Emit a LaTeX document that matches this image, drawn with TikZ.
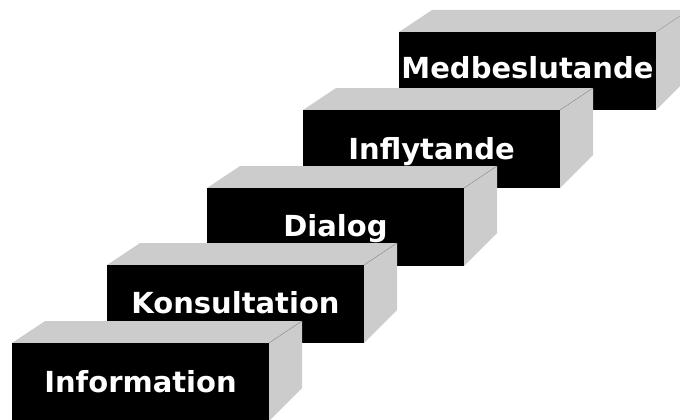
\documentclass[tikz,border=0pt]{standalone}
\usepackage{fontspec}
\newfontfamily\labelfont{DejaVu Sans}
\usepackage{tikz}

\begin{document}
\begin{tikzpicture}[x=1pt,y=-1pt]
  \tikzstyle{FrontStyle}=[fill=black]
  \tikzstyle{SideStyle}=[fill=black!20]
  \tikzstyle{EdgeStyle}=[draw=black!45,line width=0.4pt]
  \tikzstyle{LabelStyle}=[text=white,anchor=base,inner sep=0pt,
                          font=\labelfont\bfseries\fontsize{29}{32}\selectfont]
  \useasboundingbox (0,0) rectangle (680,420);
  \clip (0,0) rectangle (680,420);
  % top step first, lower steps overlap it
  \foreach \x/\y/\base/\id/\txt in {399/32/46/med/Medbeslutande,
                                   303/110/49/infl/Inflytande,
                                   207/188/48/dia/Dialog,
                                   107/265/48/kons/Konsultation,
                                   12/343/49/info/Information}{
    \fill[SideStyle] (\x,\y) -- ++(33,-22) -- ++(257,0) -- ++(-33,22) -- cycle;
    \fill[SideStyle] (\x+257,\y) -- ++(33,-22) -- ++(0,67) -- ++(-33,33) -- cycle;
    \draw[EdgeStyle] (\x+257,\y) -- ++(33,-22);
    \fill[FrontStyle] (\x,\y) rectangle ++(257,78);
    \node[LabelStyle] (\id) at (\x+128.5,\y+\base) {\txt};
  }
\end{tikzpicture}
\end{document}
